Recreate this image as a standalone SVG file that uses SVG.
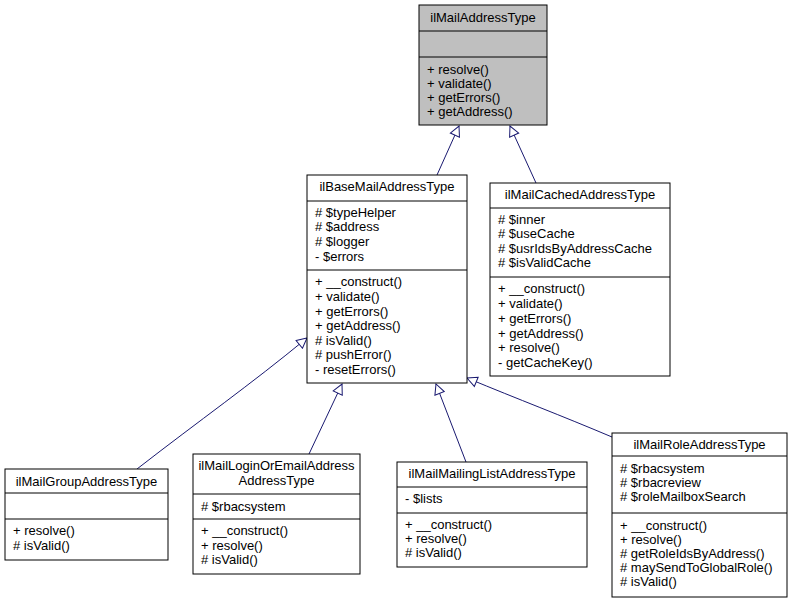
<svg xmlns="http://www.w3.org/2000/svg" width="792" height="603" viewBox="0 0 792 603">
<style>
.b{fill:#fff;stroke:#000;stroke-width:1}
.g{fill:#bfbfbf;stroke:#000;stroke-width:1}
.s{stroke:#000;stroke-width:1}
text{font-family:"Liberation Sans",Arial,sans-serif;font-size:13px;fill:#000}
.c{text-anchor:middle}
.e{fill:none;stroke:#191970;stroke-width:1}
</style>
<defs>
<marker id="tri" viewBox="0 0 12 12" refX="11" refY="6" markerWidth="12" markerHeight="12" orient="auto" markerUnits="userSpaceOnUse">
<path d="M1,1 L11,6 L1,11 Z" fill="#fff" stroke="#191970"/>
</marker>
</defs>
<rect width="792" height="603" fill="#fff"/>
<g id="edges">
<path class="e" d="M437,175 L459,126" marker-end="url(#tri)"/>
<path class="e" d="M536,183 L510,126" marker-end="url(#tri)"/>
<path class="e" d="M137,469 C200,420 250,385 307,338" marker-end="url(#tri)"/>
<path class="e" d="M309,454 L342,384" marker-end="url(#tri)"/>
<path class="e" d="M466,462 L436,384" marker-end="url(#tri)"/>
<path class="e" d="M612,437 C560,415 520,400 467,378" marker-end="url(#tri)"/>
</g>
<g id="ilMailAddressType">
<rect class="g" x="419" y="5" width="128" height="120"/>
<line class="s" x1="419" y1="31" x2="547" y2="31"/>
<line class="s" x1="419" y1="57" x2="547" y2="57"/>
<text class="c" x="483" y="22">ilMailAddressType</text>
<text x="427" y="74">+ resolve()</text>
<text x="427" y="88">+ validate()</text>
<text x="427" y="102">+ getErrors()</text>
<text x="427" y="116">+ getAddress()</text>
</g>
<g id="ilBaseMailAddressType">
<rect class="b" x="307" y="175" width="160" height="208"/>
<line class="s" x1="307" y1="201" x2="467" y2="201"/>
<line class="s" x1="307" y1="270" x2="467" y2="270"/>
<text class="c" x="387" y="191">ilBaseMailAddressType</text>
<text x="315" y="217"># $typeHelper</text>
<text x="315" y="231"># $address</text>
<text x="315" y="246"># $logger</text>
<text x="315" y="261">- $errors</text>
<text x="315" y="286">+ __construct()</text>
<text x="315" y="301">+ validate()</text>
<text x="315" y="316">+ getErrors()</text>
<text x="315" y="330">+ getAddress()</text>
<text x="315" y="345"># isValid()</text>
<text x="315" y="359"># pushError()</text>
<text x="315" y="374">- resetErrors()</text>
</g>
<g id="ilMailCachedAddressType">
<rect class="b" x="490" y="183" width="180" height="193"/>
<line class="s" x1="490" y1="208" x2="670" y2="208"/>
<line class="s" x1="490" y1="277" x2="670" y2="277"/>
<text class="c" x="580" y="199">ilMailCachedAddressType</text>
<text x="498" y="224"># $inner</text>
<text x="498" y="238"># $useCache</text>
<text x="498" y="253"># $usrIdsByAddressCache</text>
<text x="498" y="267"># $isValidCache</text>
<text x="498" y="293">+ __construct()</text>
<text x="498" y="308">+ validate()</text>
<text x="498" y="323">+ getErrors()</text>
<text x="498" y="338">+ getAddress()</text>
<text x="498" y="352">+ resolve()</text>
<text x="498" y="367">- getCacheKey()</text>
</g>
<g id="ilMailGroupAddressType">
<rect class="b" x="5" y="469" width="163" height="91"/>
<line class="s" x1="5" y1="493" x2="168" y2="493"/>
<line class="s" x1="5" y1="519" x2="168" y2="519"/>
<text class="c" x="86.5" y="486">ilMailGroupAddressType</text>
<text x="13" y="535">+ resolve()</text>
<text x="13" y="550"># isValid()</text>
</g>
<g id="ilMailLoginOrEmailAddressType">
<rect class="b" x="193" y="454" width="167" height="120"/>
<line class="s" x1="193" y1="494" x2="360" y2="494"/>
<line class="s" x1="193" y1="519" x2="360" y2="519"/>
<text class="c" x="276.5" y="470">ilMailLoginOrEmailAddress</text>
<text class="c" x="276.5" y="485">AddressType</text>
<text x="201" y="511"># $rbacsystem</text>
<text x="201" y="535">+ __construct()</text>
<text x="201" y="550">+ resolve()</text>
<text x="201" y="564"># isValid()</text>
</g>
<g id="ilMailMailingListAddressType">
<rect class="b" x="397" y="462" width="190" height="105"/>
<line class="s" x1="397" y1="487" x2="587" y2="487"/>
<line class="s" x1="397" y1="513" x2="587" y2="513"/>
<text class="c" x="492" y="478">ilMailMailingListAddressType</text>
<text x="405" y="503">- $lists</text>
<text x="405" y="529">+ __construct()</text>
<text x="405" y="543">+ resolve()</text>
<text x="405" y="557"># isValid()</text>
</g>
<g id="ilMailRoleAddressType">
<rect class="b" x="612" y="433" width="175" height="164"/>
<line class="s" x1="612" y1="456" x2="787" y2="456"/>
<line class="s" x1="612" y1="513" x2="787" y2="513"/>
<text class="c" x="699.5" y="449">ilMailRoleAddressType</text>
<text x="620" y="473"># $rbacsystem</text>
<text x="620" y="487"># $rbacreview</text>
<text x="620" y="501"># $roleMailboxSearch</text>
<text x="620" y="530">+ __construct()</text>
<text x="620" y="544">+ resolve()</text>
<text x="620" y="558"># getRoleIdsByAddress()</text>
<text x="620" y="572"># maySendToGlobalRole()</text>
<text x="620" y="586"># isValid()</text>
</g>
</svg>
